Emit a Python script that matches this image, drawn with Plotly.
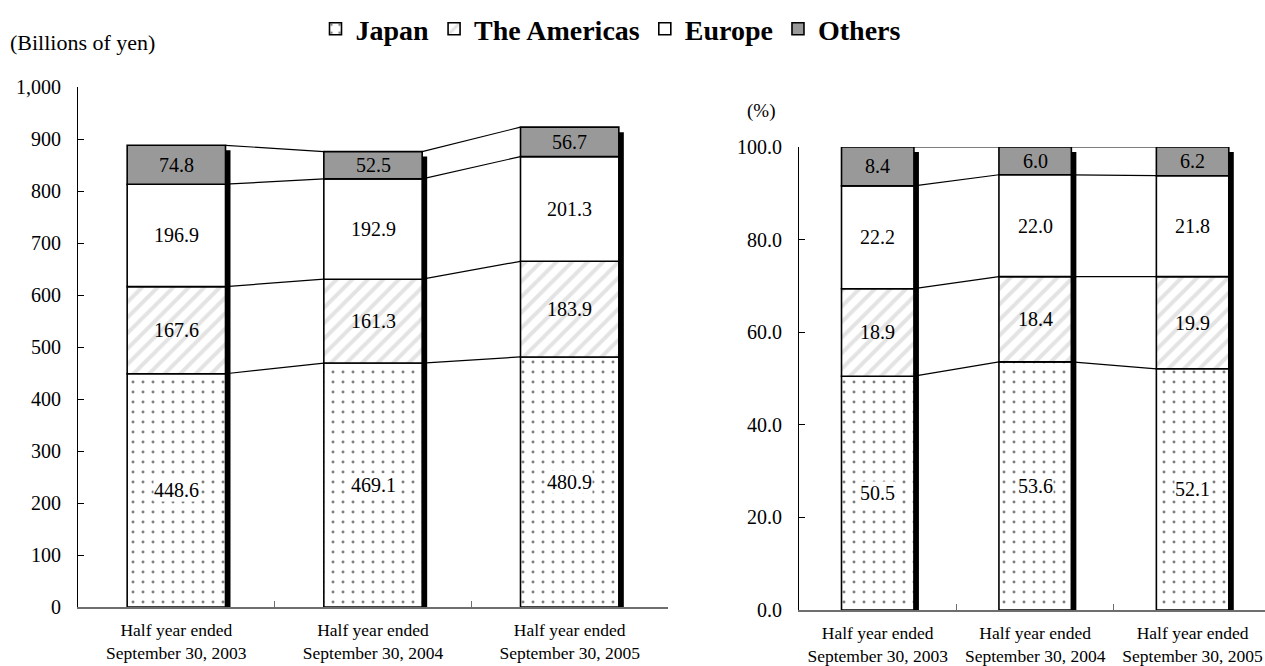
import plotly.graph_objects as go

# Sales by region, half years ended September 30
periods = [
    "Half year ended<br>September 30, 2003",
    "Half year ended<br>September 30, 2004",
    "Half year ended<br>September 30, 2005",
]
regions = ["Japan", "The Americas", "Europe", "Others"]

# Billions of yen
japan_yen = [448.6, 469.1, 480.9]
americas_yen = [167.6, 161.3, 183.9]
europe_yen = [196.9, 192.9, 201.3]
others_yen = [74.8, 52.5, 56.7]

# Share of total (%)
japan_pct = [50.5, 53.6, 52.1]
americas_pct = [18.9, 18.4, 19.9]
europe_pct = [22.2, 22.0, 21.8]
others_pct = [8.4, 6.0, 6.2]

FONT = "Liberation Serif"
W, H = 1265, 666

# plot-area rectangles in pixels: (left, right, top, bottom) and visible x range
LEFT_BOX = (78, 668, 87, 607)
LEFT_XRANGE = (-0.5, 2.5)
RIGHT_BOX = (799, 1265, 147, 610)
RIGHT_XRANGE = (-0.5, 2.46)

styles = {
    "Japan": dict(color="white",
                  pattern=dict(shape=".", fgcolor="black", bgcolor="white",
                               size=10, solidity=0.07)),
    "The Americas": dict(color="white",
                         pattern=dict(shape="/", fgcolor="#c8c8c8", bgcolor="white",
                                      size=11, solidity=0.36)),
    "Europe": dict(color="white"),
    "Others": dict(color="#999999"),
}

fig = go.Figure()
annotations = []


def add_panel(series, box, xrange_, yrange, bar_w, xa, ya, show_legend):
    left, right, top, bottom = box
    px_x = (right - left) / (xrange_[1] - xrange_[0])   # pixels per category unit
    px_y = (bottom - top) / (yrange[1] - yrange[0])
    xs = [0, 1, 2]

    # cumulative bases
    cums = [[0.0, 0.0, 0.0]]
    for vals in series:
        cums.append([c + v for c, v in zip(cums[-1], vals)])
    totals = cums[-1]

    # connector lines between adjacent bars at every segment boundary
    hw = bar_w / 2
    for level in cums[1:]:
        lx, ly = [], []
        for i in range(2):
            lx += [i + hw, i + 1 - hw, None]
            ly += [level[i], level[i + 1], None]
        fig.add_trace(go.Scatter(x=lx, y=ly, mode="lines", xaxis=xa, yaxis=ya,
                                 line=dict(color="black", width=1.2),
                                 showlegend=False, hoverinfo="skip"))

    # drop shadow on the right of each stacked bar
    dx = 5.0 / px_x
    dy = 5.0 / px_y
    fig.add_trace(go.Bar(x=xs, y=[t - dy for t in totals], width=bar_w,
                         offset=-hw + dx, xaxis=xa, yaxis=ya,
                         marker=dict(color="black", line=dict(width=0)),
                         showlegend=False, hoverinfo="skip"))

    for name, vals, base in zip(regions, series, cums[:-1]):
        st = styles[name]
        marker = dict(color=st["color"], line=dict(color="black", width=1.6))
        if "pattern" in st:
            marker["pattern"] = st["pattern"]
        fig.add_trace(go.Bar(x=xs, y=vals, base=base, width=bar_w, name=name,
                             xaxis=xa, yaxis=ya, marker=marker,
                             legendgroup=name, showlegend=show_legend))
        for i in xs:
            annotations.append(dict(
                x=i, y=base[i] + vals[i] / 2, xref=xa, yref=ya,
                text=f"{vals[i]:.1f}", showarrow=False,
                font=dict(family=FONT, size=20, color="black"),
                bgcolor="white" if name == "Japan" else "rgba(0,0,0,0)",
                borderpad=0,
            ))


add_panel([japan_yen, americas_yen, europe_yen, others_yen], LEFT_BOX,
          LEFT_XRANGE, (0, 1000), 0.5, "x", "y", True)
add_panel([japan_pct, americas_pct, europe_pct, others_pct], RIGHT_BOX,
          RIGHT_XRANGE, (0, 100), 0.46, "x2", "y2", False)


def xdom(box):
    return [box[0] / W, box[1] / W]


def ydom(box):
    return [(H - box[3]) / H, (H - box[2]) / H]


def xaxis_cfg(box, rng, anchor):
    bounds = [b for b in (0.5, 1.5, 2.5) if b < rng[1]]
    return dict(domain=xdom(box), range=list(rng), anchor=anchor,
                tickvals=[0, 1, 2], ticktext=periods, ticks="",
                showgrid=False, zeroline=False, automargin=False,
                showline=True, linecolor="#6e6e6e", linewidth=2,
                tickfont=dict(family=FONT, size=17.5, color="black"),
                ticklabelstandoff=6, fixedrange=True,
                minor=dict(tickvals=bounds, ticks="inside", ticklen=6,
                           tickcolor="#6e6e6e", tickwidth=1, showgrid=False))


def yaxis_cfg(box, rng, dtick, fmt, anchor):
    return dict(domain=ydom(box), range=list(rng), dtick=dtick, tickformat=fmt,
                anchor=anchor, showgrid=False, zeroline=False, showline=True,
                automargin=False,
                linecolor="black", linewidth=1, ticks="inside", ticklen=6,
                tickcolor="black", tickwidth=1, ticklabelstandoff=12,
                tickfont=dict(family=FONT, size=20, color="black"),
                fixedrange=True)


annotations.append(dict(x=8 / W, y=(H - 42) / H, xref="paper", yref="paper",
                        xanchor="left", yanchor="middle", showarrow=False,
                        text="(Billions of yen)",
                        font=dict(family=FONT, size=22, color="black")))
annotations.append(dict(x=761 / W, y=(H - 111) / H, xref="paper", yref="paper",
                        xanchor="center", yanchor="middle", showarrow=False,
                        text="(%)", font=dict(family=FONT, size=19, color="black")))

fig.update_layout(
    width=W, height=H,
    margin=dict(l=0, r=0, t=0, b=0),
    paper_bgcolor="white", plot_bgcolor="white",
    barmode="overlay",
    xaxis=xaxis_cfg(LEFT_BOX, LEFT_XRANGE, "y"),
    yaxis=yaxis_cfg(LEFT_BOX, (0, 1000), 100, ",", "x"),
    xaxis2=xaxis_cfg(RIGHT_BOX, RIGHT_XRANGE, "y2"),
    yaxis2=yaxis_cfg(RIGHT_BOX, (0, 100), 20, ".1f", "x2"),
    legend=dict(orientation="h", x=611 / W, xanchor="center",
                y=(H - 29) / H, yanchor="middle",
                font=dict(family=FONT, size=28, color="black", weight="bold"),
                traceorder="normal", bgcolor="rgba(0,0,0,0)",
                itemclick=False, itemdoubleclick=False),
    annotations=annotations,
    showlegend=True,
    hovermode=False,
)

fig.write_html("out.html")
